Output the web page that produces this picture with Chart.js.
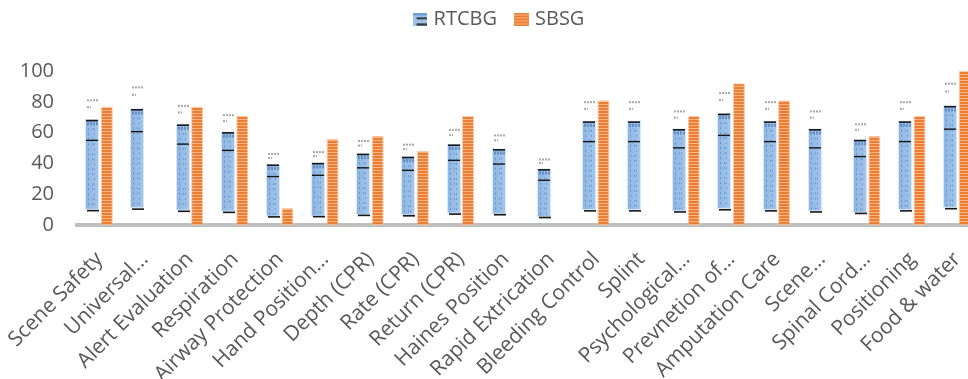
<!DOCTYPE html>
<html>
<head>
<meta charset="utf-8">
<script src="https://cdn.jsdelivr.net/npm/chart.js@4.4.1/dist/chart.umd.min.js"></script>
<style>
  html, body { margin: 0; padding: 0; background: #ffffff; overflow: hidden; width: 968px; height: 379px; }
  #wrap { width: 980px; height: 379px; }
</style>
</head>
<body>
<div id="wrap"><canvas id="c" width="980" height="379"></canvas></div>
<script>
// Skill items assessed in each group
const categories = [
  'Scene Safety', 'Universal…', 'Alert Evaluation', 'Respiration', 'Airway Protection',
  'Hand Position…', 'Depth (CPR)', 'Rate (CPR)', 'Return (CPR)', 'Haines Position',
  'Rapid Extrication', 'Bleeding Control', 'Splint', 'Psychological…', 'Prevnetion of…',
  'Amputation Care', 'Scene…', 'Spinal Cord…', 'Positioning', 'Food & water'
];
// Scores per group (null = no bar)
const rtcbg = [68, 75, 65, 60, 39, 40, 46, 44, 52, 49, 36, 67, 67, 62, 72, 67, 62, 55, 67, 77];
const sbsg  = [77, null, 77, 71, 11, 56, 58, 48, 71, null, null, 81, null, 71, 92, 81, null, 58, 71, 100];
const yTicks = [0, 20, 40, 60, 80, 100];
const seriesNames = ['RTCBG', 'SBSG'];

const TEXT = '#595959';
const FONT = "'Open Sans', 'DejaVu Sans', sans-serif";

// Striped orange fill
function stripePattern() {
  const p = document.createElement('canvas');
  p.width = 4; p.height = 3;
  const g = p.getContext('2d');
  g.fillStyle = '#ed7d31'; g.fillRect(0, 0, 4, 3);
  g.fillStyle = '#f6b68a'; g.fillRect(0, 2, 4, 1);
  return g.createPattern(p, 'repeat');
}
const orangeFill = stripePattern();

// Legend swatches
function blueSwatch() {
  const c = document.createElement('canvas');
  c.width = 14; c.height = 13;
  const g = c.getContext('2d');
  g.fillStyle = '#9dc3e6'; g.fillRect(0, 0, 14, 13);
  g.fillStyle = '#6f9fd3'; g.fillRect(0, 0, 14, 3);
  g.fillStyle = '#111'; g.fillRect(4, 5, 10, 1.5); g.fillRect(4, 11, 10, 1.5);
  return c;
}
function orangeSwatch() {
  const c = document.createElement('canvas');
  c.width = 15; c.height = 13;
  const g = c.getContext('2d');
  g.fillStyle = '#ed7d31'; g.fillRect(0, 0, 15, 13);
  g.fillStyle = '#f6b68a';
  for (let y = 2; y < 13; y += 3) g.fillRect(0, y, 15, 1);
  return c;
}
const swatches = [blueSwatch(), orangeSwatch()];

// Draws the blue table-textured bars from each bar element's geometry
const blueBars = {
  id: 'blueBars',
  afterDatasetsDraw(chart) {
    const ctx = chart.ctx;
    const ys = chart.scales.y;
    const meta = chart.getDatasetMeta(0);
    ctx.save();
    meta.data.forEach((bar, i) => {
      const v = rtcbg[i];
      if (v == null) return;
      const w = bar.width;
      const L = Math.round(bar.x - w / 2), R = L + Math.round(w);
      const bw = R - L;
      const yTop = ys.getPixelForValue(v);
      const yLow = ys.getPixelForValue(v * 0.155);
      const yMid = ys.getPixelForValue(v * 0.81);
      const yBot = ys.getPixelForValue(v * 0.14);
      // soft halo
      ctx.fillStyle = 'rgba(205,225,245,0.8)';
      ctx.fillRect(L - 1, yTop - 1, bw + 2, yLow - yTop + 2);
      // body
      const gr = ctx.createLinearGradient(L, 0, R, 0);
      gr.addColorStop(0, '#8db6e2');
      gr.addColorStop(1, '#a3c6eb');
      ctx.fillStyle = gr;
      ctx.fillRect(L, yTop, bw, yLow - yTop);
      // header row of the texture
      ctx.fillStyle = 'rgba(60,105,170,0.55)';
      for (let x = L + 1; x < R - 1; x += 3) ctx.fillRect(x, yTop + 2, 2, 3);
      // dotted columns
      ctx.fillStyle = 'rgba(60,105,170,0.45)';
      let row = 0;
      for (let y = yTop + 8; y < yLow - 2; y += 5, row++) {
        ctx.fillRect(L + 2, y, 1, 2);
        if (row % 3 !== 1) ctx.fillRect(L + 6, y, 1, 2);
        ctx.fillRect(L + 8, y, 1, 2);
      }
      // rules
      ctx.fillStyle = '#161616';
      ctx.fillRect(L, yTop - 0.5, bw, 1.6);
      ctx.fillRect(L, yMid - 0.5, bw, 1.4);
      ctx.fillRect(L + 1, yBot - 0.5, bw, 1.6);
      // small caption marks above the bar
      ctx.fillStyle = 'rgba(110,110,110,0.6)';
      const y1 = ys.getPixelForValue(v * 1.2);
      const y2 = ys.getPixelForValue(v * 1.135);
      for (let x = L + 1; x < L + 11; x += 3) ctx.fillRect(x, y1, 2, 2);
      ctx.fillRect(L + 1, y2, 2, 2);
      ctx.fillRect(L + 4, y2, 1, 2);
    });
    ctx.restore();
  }
};

// Legend sizing and placement
const legendPlace = {
  id: 'legendPlace',
  afterInit(chart) {
    const lg = chart.legend;
    const fit0 = lg.fit.bind(lg);
    lg.fit = function () { fit0(); this.height = 71; };
    const draw0 = lg.draw.bind(lg);
    lg.draw = function (area) {
      const ctx = this.ctx;
      ctx.save();
      ctx.translate(10, -11);
      draw0(area);
      ctx.restore();
    };
  }
};

new Chart(document.getElementById('c'), {
  type: 'bar',
  data: {
    labels: categories,
    datasets: [
      {
        label: seriesNames[0],
        data: rtcbg,
        backgroundColor: 'rgba(0,0,0,0)',
        borderWidth: 0
      },
      {
        label: seriesNames[1],
        data: sbsg,
        backgroundColor: orangeFill,
        borderColor: 'rgba(246,190,150,0.8)',
        borderWidth: 1,
        borderSkipped: 'bottom'
      }
    ]
  },
  options: {
    responsive: false,
    devicePixelRatio: 1,
    animation: false,
    events: [],
    categoryPercentage: 0.642,
    barPercentage: 0.83,
    layout: { padding: { left: 0, right: 0, top: 0, bottom: 0 } },
    plugins: {
      tooltip: { enabled: false },
      legend: {
        position: 'top',
        align: 'center',
        labels: {
          usePointStyle: true,
          boxWidth: 8,
          boxHeight: 13,
          padding: 20,
          color: TEXT,
          font: { family: FONT, size: 20 },
          generateLabels(chart) {
            return chart.data.datasets.map((ds, i) => ({
              text: ds.label,
              pointStyle: swatches[i],
              fillStyle: 'rgba(0,0,0,0)',
              strokeStyle: 'rgba(0,0,0,0)',
              lineWidth: 0,
              fontColor: TEXT,
              hidden: false,
              datasetIndex: i
            }));
          }
        }
      }
    },
    scales: {
      x: {
        z: 1,
        grid: { display: false },
        border: { display: true, color: '#bfbfbf', width: 4 },
        ticks: {
          color: TEXT,
          font: { family: FONT, size: 21 },
          minRotation: 45,
          maxRotation: 45,
          autoSkip: false,
          padding: 14
        },
        afterFit(s) {
          s.height = 154;
          s.paddingLeft = 0;
          s.paddingRight = 0;
        }
      },
      y: {
        min: 0,
        max: 100,
        grid: { display: false },
        border: { display: false },
        ticks: {
          color: TEXT,
          font: { family: FONT, size: 20 },
          padding: 15
        },
        afterBuildTicks(s) { s.ticks = yTicks.map(v => ({ value: v })); },
        afterFit(s) { s.width = 77; }
      }
    }
  },
  plugins: [blueBars, legendPlace]
});
</script>
</body>
</html>
